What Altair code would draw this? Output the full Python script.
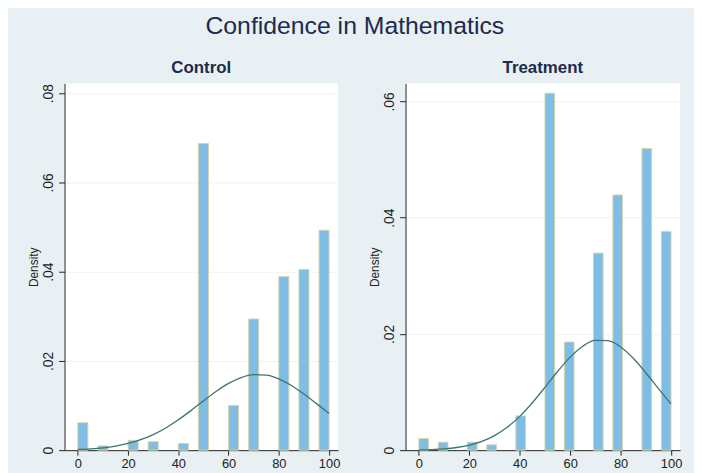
import altair as alt
import pandas as pd

# ---- data ----
scores = [0, 10, 20, 30, 40, 50, 60, 70, 80, 90, 100]

control_bin_lo = [0, 8, 20, 28, 40, 48, 60, 68, 80, 88, 96]
control_bin_width = 4
control_density = [0.00615, 0.00096, 0.0022, 0.0019, 0.0015, 0.0687,
                   0.0100, 0.0294, 0.0389, 0.0405, 0.0493]

treat_bin_lo = [0, 7.69, 19.23, 26.92, 38.46, 50, 57.69, 69.23, 76.92, 88.46, 96.15]
treat_bin_width = 3.846
treat_density = [0.0020, 0.00137, 0.00137, 0.00092, 0.0059, 0.0614,
                 0.0186, 0.0339, 0.0439, 0.0519, 0.0376]

curve_x = [0, 5, 10, 15, 20, 25, 30, 35, 40, 45, 50,
           55, 60, 65, 70, 75, 80, 85, 90, 95, 100]
control_curve = [0.00016, 0.0003, 0.00053, 0.00092, 0.0015, 0.00234, 0.00349,
                 0.00498, 0.0068, 0.00886, 0.01104, 0.01315, 0.01496, 0.01628,
                 0.01693, 0.01682, 0.01597, 0.0145, 0.01258, 0.01043, 0.00826]
treat_curve = [0.00005, 0.00011, 0.00023, 0.00046, 0.00086, 0.0015, 0.0025,
               0.00393, 0.00582, 0.00816, 0.01081, 0.01353, 0.0160, 0.01788,
               0.01888, 0.01884, 0.01776, 0.01582, 0.01332, 0.01059, 0.00796]

x_ticks = [0, 20, 40, 60, 80, 100]

BG = "#E8F0F3"
NAVY = "#1D2B4C"
BAR = "#80BDE5"
BAR_EDGE = "#D6D6AE"
CURVE = "#3B7570"
FONT = "Liberation Sans"


def panel(title, lo, w, dens, curve, ymax, yticks, pw):
    bars_df = pd.DataFrame({"lo": lo, "hi": [l + w for l in lo], "density": dens})
    curve_df = pd.DataFrame({"x": curve_x, "d": curve})
    xscale = alt.Scale(domain=[-5.3, 103.6], nice=False, zero=False)
    yscale = alt.Scale(domain=[0, ymax], nice=False)
    xaxis = alt.Axis(values=x_ticks, title=None, grid=False, labelFontSize=13,
                     labelColor="#222222", tickSize=5, tickColor="#222222",
                     domainColor="#222222", labelPadding=2, labelFont=FONT)
    yaxis = alt.Axis(values=yticks, title="Density", grid=True,
                     gridColor="#EEF2F3", labelAngle=270, labelAlign="center",
                     labelBaseline="bottom", labelFontSize=14, labelColor="#222222",
                     labelPadding=3, tickSize=6, tickColor="#222222",
                     domainColor="#222222", titleFontSize=12, titleFontWeight="normal",
                     titleColor="#222222", titlePadding=1, titleFont=FONT, labelFont=FONT,
                     labelExpr="datum.value == 0 ? '0' : substring(format(datum.value, '.2f'), 1)")
    bars = alt.Chart(bars_df).mark_rect(fill=BAR, stroke=BAR_EDGE, strokeWidth=1).encode(
        x=alt.X("lo:Q", scale=xscale, axis=xaxis),
        x2="hi:Q",
        y=alt.Y("density:Q", scale=yscale, axis=yaxis),
        y2=alt.datum(0),
    )
    line = alt.Chart(curve_df).mark_line(color=CURVE, strokeWidth=1.3,
                                         interpolate="monotone").encode(
        x=alt.X("x:Q", scale=xscale),
        y=alt.Y("d:Q", scale=yscale),
    )
    return alt.layer(bars, line).properties(
        width=pw, height=370,
        title=alt.TitleParams(title, fontSize=17, fontWeight="bold", color=NAVY,
                              font=FONT, anchor="middle", frame="group", offset=6),
    )


left = panel("Control", control_bin_lo, control_bin_width, control_density,
             control_curve, 0.0822, [0, 0.02, 0.04, 0.06, 0.08], 276)
right = panel("Treatment", treat_bin_lo, treat_bin_width, treat_density,
              treat_curve, 0.0631, [0, 0.02, 0.04, 0.06], 277)

chart = alt.hconcat(left, right, spacing=28).properties(
    title=alt.TitleParams("Confidence in Mathematics", fontSize=25, fontWeight="normal",
                          color=NAVY, font=FONT, anchor="middle", offset=21),
    padding={"left": 20, "top": 4, "right": 12, "bottom": 2},
    background=BG,
).configure_view(fill="white", stroke=None)

chart.save("out.html", embed_options={"renderer": "svg", "actions": False})
